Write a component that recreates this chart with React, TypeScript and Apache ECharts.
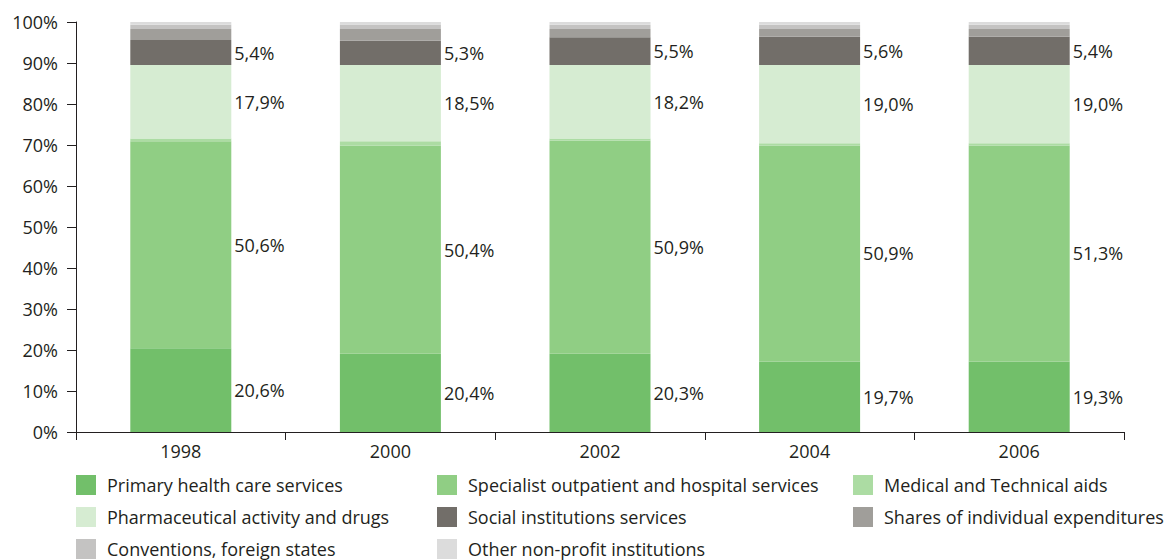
import React, { useEffect, useRef } from "react";
import * as echarts from "echarts";

const years = ["1998", "2000", "2002", "2004", "2006"];
const seriesNames = [
  "Primary health care services",
  "Specialist outpatient and hospital services",
  "Medical and Technical aids",
  "Pharmaceutical activity and drugs",
  "Social institutions services",
  "Shares of individual expenditures",
  "Conventions, foreign states",
  "Other non-profit institutions",
];
const colors = ["#72bf6a", "#90ce84", "#acdca3", "#d6ecd2", "#726e69", "#a09e9a", "#c4c3c2", "#dcdcdc"];

const primary = [20.4, 19.1, 19.1, 17.2, 17.2];
const specialist = [50.5, 50.8, 52.0, 52.7, 52.7];
const medical = [0.7, 1.0, 0.5, 0.5, 0.5];
const pharma = [17.9, 18.6, 17.9, 19.1, 19.1];
const social = [6.1, 5.9, 6.8, 6.9, 6.9];
const shares = [2.7, 2.9, 2.0, 1.9, 1.9];
const conventions = [1.0, 1.1, 1.0, 1.0, 1.0];
const other = [0.7, 0.6, 0.7, 0.7, 0.7];

const primaryLabels = ["20,6%", "20,4%", "20,3%", "19,7%", "19,3%"];
const specialistLabels = ["50,6%", "50,4%", "50,9%", "50,9%", "51,3%"];
const pharmaLabels = ["17,9%", "18,5%", "18,2%", "19,0%", "19,0%"];
const socialLabels = ["5,4%", "5,3%", "5,5%", "5,6%", "5,4%"];

const yTicks = [0, 10, 20, 30, 40, 50, 60, 70, 80, 90, 100];

const FONT = "Open Sans";
const TXT = "#231f20";

export default function App() {
  const ref = useRef<HTMLDivElement>(null);
  useEffect(() => {
    document.body.style.margin = "0";
    const chart = echarts.init(ref.current!, null, { renderer: "svg" });
    const values = [primary, specialist, medical, pharma, social, shares, conventions, other];
    const labels: (string[] | null)[] = [primaryLabels, specialistLabels, null, pharmaLabels, socialLabels, null, null, null];
    const series = values.map((v, i) => ({
      name: seriesNames[i],
      type: "bar",
      stack: "total",
      barWidth: 101,
      data: v,
      itemStyle: { color: colors[i] },
      label: labels[i]
        ? {
            show: true,
            position: "right",
            distance: 3,
            color: TXT,
            fontFamily: FONT,
            fontSize: 18,
            formatter: (p: any) => (labels[i] as string[])[p.dataIndex],
          }
        : { show: false },
    }));
    const legendCommon = {
      orient: "vertical",
      top: 475,
      padding: 0,
      itemWidth: 20,
      itemHeight: 20,
      itemGap: 12,
      icon: "rect",
      selectedMode: false,
      textStyle: { color: TXT, fontFamily: FONT, fontSize: 18, padding: [0, 0, 0, 6] },
    };
    chart.setOption({
      animation: false,
      textStyle: { fontFamily: FONT },
      grid: { left: 76, right: 43, top: 22, bottom: 128 },
      legend: [
        { ...legendCommon, left: 76, data: [seriesNames[0], seriesNames[3], seriesNames[6]] },
        { ...legendCommon, left: 437, data: [seriesNames[1], seriesNames[4], seriesNames[7]] },
        { ...legendCommon, left: 853, data: [seriesNames[2], seriesNames[5]] },
      ],
      xAxis: {
        type: "category",
        data: years,
        axisLine: { lineStyle: { color: TXT, width: 1 } },
        axisTick: { show: true, length: 8, lineStyle: { color: TXT } },
        axisLabel: { color: TXT, fontSize: 18, fontFamily: FONT, margin: 10 },
      },
      yAxis: {
        type: "value",
        min: yTicks[0],
        max: yTicks[yTicks.length - 1],
        interval: 10,
        axisLine: { show: true, lineStyle: { color: TXT, width: 1 } },
        axisTick: { show: true, length: 9, lineStyle: { color: TXT } },
        splitLine: { show: false },
        axisLabel: { color: TXT, fontSize: 18, fontFamily: FONT, margin: 18, formatter: "{value}%" },
      },
      series,
    });
    return () => chart.dispose();
  }, []);
  return <div ref={ref} style={{ width: 1167, height: 560 }} />;
}
